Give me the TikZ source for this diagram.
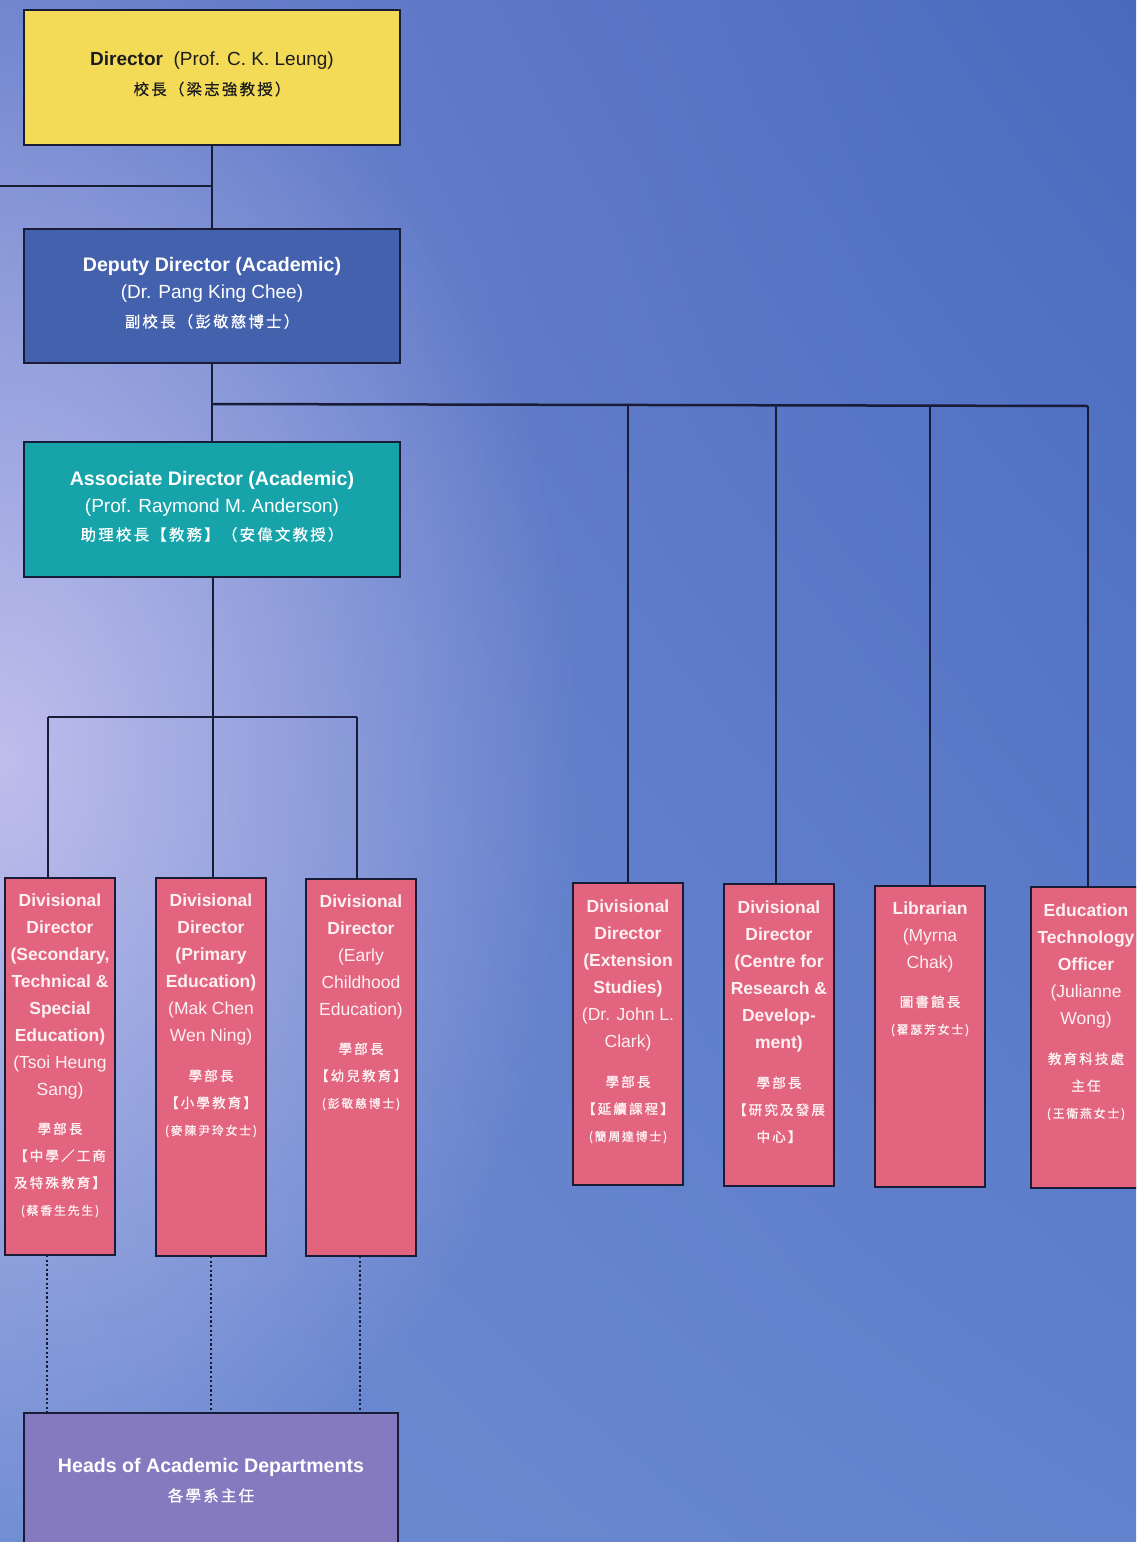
\documentclass[tikz,border=0pt]{standalone}
\usepackage{fontspec}
\setmainfont{Liberation Sans}
\newfontfamily\cjkt[LetterSpace=14,FakeBold=0.6]{Noto Sans CJK TC}
\newfontfamily\cjkp[LetterSpace=16,FakeBold=1.3]{Noto Sans CJK TC}
\usetikzlibrary{fadings,shadings}
\definecolor{bgUL}{RGB}{108,130,204}
\definecolor{bgUR}{RGB}{74,106,190}
\definecolor{bgLL}{RGB}{110,140,210}
\definecolor{bgLR}{RGB}{98,130,205}
\definecolor{glowc}{RGB}{200,196,240}
\definecolor{linec}{RGB}{24,28,55}
\definecolor{yellowc}{RGB}{243,219,88}
\definecolor{deputyc}{RGB}{67,97,173}
\definecolor{tealc}{RGB}{22,163,170}
\definecolor{pinkc}{RGB}{226,100,126}
\definecolor{purplec}{RGB}{133,122,192}
\definecolor{pinktext}{RGB}{255,240,242}
\definecolor{dirtext}{RGB}{28,28,30}
\tikzfading[name=glowfade, inner color=transparent!0, outer color=transparent!100]
\newcommand{\tcj}[1]{{\cjkt\fontsize{15.5}{28}\selectfont #1}}
\newcommand{\pcj}[1]{{\cjkp\fontsize{13.5}{27}\selectfont #1}}
\newcommand{\pnm}[1]{{\cjkp\fontsize{11.8}{27}\selectfont #1}}
\newcommand{\tb}[1]{{\fontsize{19.6}{27}\selectfont\bfseries #1}}
\begin{document}
\begin{tikzpicture}[x=1pt,y=-1pt,
  box/.style={draw=linec, line width=2.5pt, anchor=north west, inner sep=0pt, outer sep=0pt},
  pinkbox/.style={box, fill=pinkc, minimum width=110pt},
  conn/.style={draw=linec, line width=2.5pt},
  dots/.style={draw=linec, line width=2.5pt, dash pattern=on 2.2pt off 2.4pt},
  ttxt/.style={align=center, anchor=north, inner sep=0pt, font=\fontsize{19}{27}\selectfont},
  ptxt/.style={text=pinktext, align=center, anchor=north, inner sep=0pt, font=\fontsize{17.5}{27}\selectfont},
]
\useasboundingbox (0,0) rectangle (1136,1542);
\clip (0,0) rectangle (1136,1542);
% background
\shade[upper left=bgUL, upper right=bgUR, lower left=bgLL, lower right=bgLR] (0,0) rectangle (1136,1542);
\fill[glowc, path fading=glowfade, opacity=0.9] (0,760) ellipse (580 and 820);

% top boxes
\node[box, fill=yellowc, minimum width=376pt, minimum height=135pt] (dir) at (24,10) {};
\node[box, fill=deputyc, minimum width=376pt, minimum height=134pt] (dep) at (24,229) {};
\node[box, fill=tealc, minimum width=376pt, minimum height=135pt] (ass) at (24,442) {};
\node[box, fill=purplec, minimum width=374pt, minimum height=160pt] (heads) at (24,1413) {};

\node[ttxt, text=dirtext] (dirT) at (212,52) {{\bfseries Director}\ \ (Prof. C. K. Leung)\\[2pt] \tcj{校長（梁志強教授）}};
\node[ttxt, text=white] (depT) at (212,257) {\tb{Deputy Director (Academic)}\\ (Dr. Pang King Chee)\\[2pt] \tcj{副校長（彭敬慈博士）}};
\node[ttxt, text=white] (assT) at (212,471) {\tb{Associate Director (Academic)}\\ (Prof. Raymond M. Anderson)\\[1pt] \tcj{助理校長【教務】（安偉文教授）}};
\node[ttxt, text=white] (headsT) at (211,1458) {\tb{Heads of Academic Departments}\\[2pt] \tcj{各學系主任}};

% pink boxes
\node[pinkbox, minimum height=377pt] (p1) at (5,878) {};
\node[pinkbox, minimum height=378pt] (p2) at (156,878) {};
\node[pinkbox, minimum height=377pt] (p3) at (306,879) {};
\node[pinkbox, minimum height=302pt] (p4) at (573,883) {};
\node[pinkbox, minimum height=302pt] (p5) at (724,884) {};
\node[pinkbox, minimum height=301pt] (p6) at (875,886) {};
\node[pinkbox, minimum height=301pt] (p7) at (1031,887) {};

\node[ptxt] (p1T) at (60,894) {{\bfseries Divisional}\\ {\bfseries Director}\\ {\bfseries (Secondary,}\\ {\bfseries Technical \&}\\ {\bfseries Special}\\ {\bfseries Education)}\\ (Tsoi Heung\\ Sang)\\[11pt] \pcj{學部長}\\ \pcj{【中學／工商}\\ \pcj{及特殊教育】}\\ \pnm{(蔡香生先生)}};
\node[ptxt] (p2T) at (211,894) {{\bfseries Divisional}\\ {\bfseries Director}\\ {\bfseries (Primary}\\ {\bfseries Education)}\\ (Mak Chen\\ Wen Ning)\\[12pt] \pcj{學部長}\\ \pcj{【小學教育】}\\ \pnm{(麥陳尹玲女士)}};
\node[ptxt] (p3T) at (361,895) {{\bfseries Divisional}\\ {\bfseries Director}\\ (Early\\ Childhood\\ Education)\\[11pt] \pcj{學部長}\\ \pcj{【幼兒教育】}\\ \pnm{(彭敬慈博士)}};
\node[ptxt] (p4T) at (628,900) {{\bfseries Divisional}\\ {\bfseries Director}\\ {\bfseries (Extension}\\ {\bfseries Studies)}\\ (Dr. John L.\\ Clark)\\[12pt] \pcj{學部長}\\ \pcj{【延續課程】}\\ \pnm{(簡周達博士)}};
\node[ptxt] (p5T) at (779,901) {{\bfseries Divisional}\\ {\bfseries Director}\\ {\bfseries (Centre for}\\ {\bfseries Research \&}\\ {\bfseries Develop-}\\ {\bfseries ment)}\\[12pt] \pcj{學部長}\\ \pcj{【研究及發展}\\ \pcj{中心】}};
\node[ptxt] (p6T) at (930,902) {{\bfseries Librarian}\\ (Myrna\\ Chak)\\[11pt] \pcj{圖書館長}\\ \pnm{(翟瑟芳女士)}};
\node[ptxt] (p7T) at (1086,904) {{\bfseries Education}\\ {\bfseries Technology}\\ {\bfseries Officer}\\ (Julianne\\ Wong)\\[12pt] \pcj{教育科技處}\\ \pcj{主任}\\ \pnm{(王衛燕女士)}};

% connectors
\coordinate (leftend) at (0,186);
\coordinate (j0) at (212,186);
\draw[conn] (dir.south) -- (dep.north);
\draw[conn] (leftend) -- (j0);
\coordinate (j1) at (212,404);
\coordinate (jr) at (1088,406);
\draw[conn] (dep.south) -- (ass.north);
\draw[conn] (j1) -- (jr);
\draw[conn] (p4.north) -- (p4.north |- j1);
\draw[conn] (776,405) coordinate (j5) -- (j5 |- p5.north);
\draw[conn] (930,406) coordinate (j6) -- (j6 |- p6.north);
\draw[conn] (jr) -- (jr |- p7.north);
\coordinate (j2) at (213,717);
\coordinate (jl) at (48,717);
\coordinate (jm) at (357,717);
\draw[conn] (ass.south -| j2) -- (j2);
\draw[conn] (jl) -- (jm);
\draw[conn] (jl) -- (jl |- p1.north);
\draw[conn] (j2) -- (j2 |- p2.north);
\draw[conn] (jm) -- (jm |- p3.north);
% dotted
\draw[dots] (p1.south -| 47,0) -- (heads.north -| 47,0);
\draw[dots] (p2.south) -- (heads.north -| p2.south);
\draw[dots] (p3.south -| 360,0) -- (heads.north -| 360,0);
\end{tikzpicture}
\end{document}
